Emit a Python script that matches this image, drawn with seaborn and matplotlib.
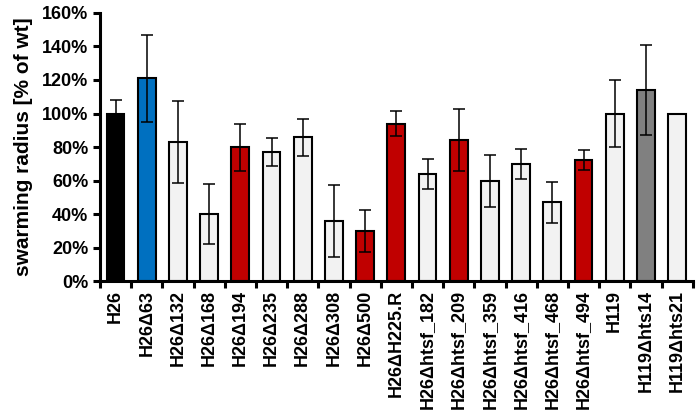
import matplotlib.pyplot as plt
import matplotlib.ticker as mticker
import numpy as np
import pandas as pd
import seaborn as sns

strains = [
    "H26", "H26Δ63", "H26Δ132", "H26Δ168", "H26Δ194", "H26Δ235", "H26Δ288",
    "H26Δ308", "H26Δ500", "H26ΔH225.R", "H26Δhtsf_182", "H26Δhtsf_209",
    "H26Δhtsf_359", "H26Δhtsf_416", "H26Δhtsf_468", "H26Δhtsf_494", "H119",
    "H119Δhts14", "H119Δhts21",
]
radius = [1.00, 1.21, 0.83, 0.40, 0.80, 0.77, 0.86, 0.36, 0.30, 0.94, 0.64,
          0.84, 0.60, 0.70, 0.47, 0.725, 1.00, 1.14, 1.00]
radius_err = [0.08, 0.26, 0.245, 0.18, 0.14, 0.085, 0.11, 0.215, 0.125, 0.075,
              0.09, 0.185, 0.155, 0.09, 0.125, 0.06, 0.20, 0.27, 0.0]
bar_colors = ["#000000", "#0070C0", "#F2F2F2", "#F2F2F2", "#C00000", "#F2F2F2",
              "#F2F2F2", "#F2F2F2", "#C00000", "#C00000", "#F2F2F2", "#C00000",
              "#F2F2F2", "#F2F2F2", "#F2F2F2", "#C00000", "#F2F2F2", "#808080",
              "#F2F2F2"]

df = pd.DataFrame({"strain": strains, "radius": radius})

sns.set_theme(style="ticks")
plt.rcParams["font.family"] = ["Liberation Sans", "DejaVu Sans"]
plt.rcParams["font.weight"] = "bold"
for key in ("text.color", "axes.labelcolor", "xtick.color", "ytick.color"):
    plt.rcParams[key] = "black"

fig, ax = plt.subplots(figsize=(6.99, 4.15), dpi=100)
fig.subplots_adjust(left=0.143, right=0.991, bottom=0.322, top=0.969)

sns.barplot(data=df, x="strain", y="radius", hue="strain", palette=bar_colors,
            saturation=1, legend=False, width=0.57, edgecolor="black",
            linewidth=1.5, errorbar=None, ax=ax)

pos = np.arange(len(strains))
has_err = np.array(radius_err) > 0
ax.errorbar(pos[has_err], np.array(radius)[has_err], yerr=np.array(radius_err)[has_err],
            fmt="none", ecolor="black", elinewidth=1.1, capsize=4.5, capthick=1.1)

ax.set_xlim(-0.5, len(strains) - 0.5)
ax.set_ylim(0, 1.6)
ax.yaxis.set_major_locator(mticker.MultipleLocator(0.2))
ax.yaxis.set_major_formatter(mticker.PercentFormatter(1.0, decimals=0))
ax.set_xticks(pos)
ax.set_xticklabels(strains, rotation=90, fontsize=13, fontweight="bold")
ax.set_xticks(np.arange(-0.5, len(strains), 1.0), minor=True)
ax.tick_params(axis="x", which="major", length=0, pad=6)
ax.tick_params(axis="x", which="minor", length=5, width=2.2, color="black")
ax.tick_params(axis="y", length=5, width=2.2, color="black", labelsize=13)
for lab in ax.get_yticklabels():
    lab.set_fontweight("bold")

ax.set_xlabel("")
ax.set_ylabel("swarming radius [% of wt]", fontsize=15, fontweight="bold", labelpad=6)
sns.despine(ax=ax)
for side in ("left", "bottom"):
    ax.spines[side].set_linewidth(2.2)
    ax.spines[side].set_color("black")

fig.savefig("out.png", dpi=100)
